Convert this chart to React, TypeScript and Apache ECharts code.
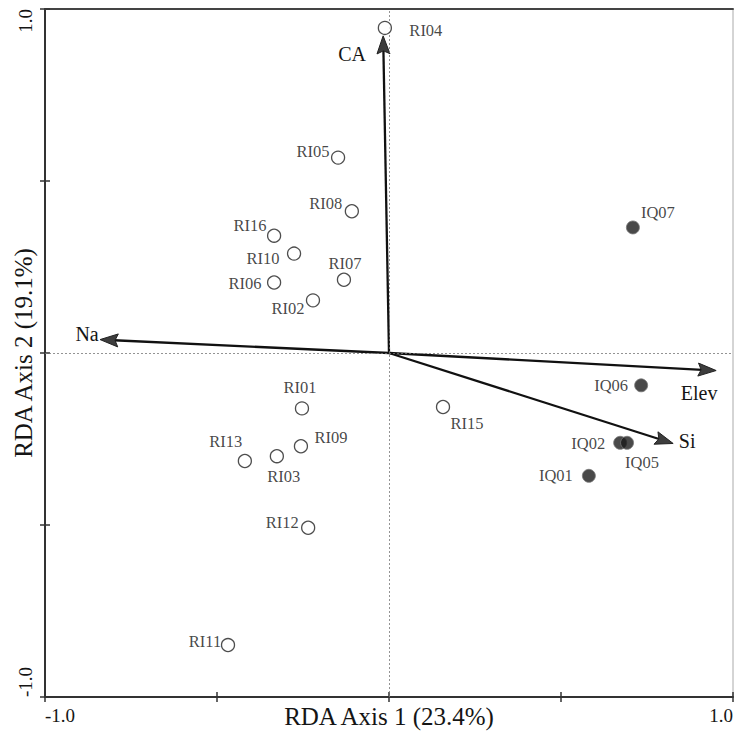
import React, { useEffect, useRef } from "react";
import * as echarts from "echarts";

// Site scores (RDA axis 1, RDA axis 2)
const siteNames = ["RI04", "RI05", "RI08", "RI16", "RI10", "RI06", "RI07", "RI02", "RI01", "RI09", "RI03", "RI13", "RI12", "RI11", "RI15", "IQ07", "IQ06", "IQ02", "IQ05", "IQ01"];
const siteX = [-0.012, -0.148, -0.108, -0.334, -0.276, -0.334, -0.131, -0.221, -0.253, -0.256, -0.326, -0.419, -0.235, -0.468, 0.157, 0.709, 0.733, 0.672, 0.692, 0.581];
const siteY = [0.945, 0.568, 0.412, 0.341, 0.289, 0.205, 0.213, 0.153, -0.161, -0.271, -0.300, -0.314, -0.508, -0.849, -0.157, 0.365, -0.094, -0.261, -0.261, -0.357];

// Environmental vectors (arrow tips)
const envNames = ["CA", "Na", "Elev", "Si"];
const envX = [-0.017, -0.840, 0.951, 0.826];
const envY = [0.922, 0.039, -0.051, -0.263];

// Axis ticks / labels
const axisMin = -1;
const axisMax = 1;
const axisStep = 0.5;
const xTitle = "RDA Axis 1 (23.4%)";
const yTitle = "RDA Axis 2 (19.1%)";

// Layout: label offsets (pixels) relative to the point / arrow tip
const siteLabelOffset: Record<string, [number, number]> = {
  RI04: [41, 3], RI05: [-25, -6], RI08: [-26, -8], RI16: [-24, -10], RI10: [-31, 5],
  RI06: [-29, 1], RI07: [1, -16], RI02: [-25, 8], RI01: [-2, -21], RI09: [30, -9],
  RI13: [-19, -20], RI03: [7, 20], RI12: [-26, -5], RI11: [-23, -4], RI15: [24, 16],
  IQ07: [25, -15], IQ06: [-30, 0], IQ02: [-32, 1], IQ05: [15, 20], IQ01: [-33, 0],
};
const envLabelOffset: Record<string, [number, number]> = {
  CA: [-31, 18], Na: [-13, -6], Elev: [-17, 22], Si: [14, -2],
};

const FONT = '"Liberation Serif", "Times New Roman", serif';
const INK = "#151515";

export default function App() {
  const ref = useRef<HTMLDivElement>(null);
  useEffect(() => {
    if (!ref.current) return;
    const chart = echarts.init(ref.current, undefined, { renderer: "svg" });

    const makeSite = (i: number) => ({
      value: [siteX[i], siteY[i]],
      name: siteNames[i],
      label: { offset: siteLabelOffset[siteNames[i]] || [0, 0] },
    });
    const riData = siteNames.map((n, i) => i).filter((i) => siteNames[i].startsWith("RI")).map(makeSite);
    const iqData = siteNames.map((n, i) => i).filter((i) => siteNames[i].startsWith("IQ")).map(makeSite);

    const tickFmt = (v: number) => (v === axisMin ? "-1.0" : v === axisMax ? "1.0" : "");

    const siteLabel = {
      show: true,
      position: "inside",
      formatter: "{b}",
      fontFamily: FONT,
      fontSize: 16.5,
      color: INK,
    };

    const baseAxis = { type: "value", min: axisMin, max: axisMax, interval: axisStep, splitLine: { show: false } };

    chart.setOption({
      animation: false,
      backgroundColor: "#fff",
      grid: { left: 45, right: 1, top: 9, bottom: 40, show: true, borderColor: "#aaa", borderWidth: 1, containLabel: false, outerBoundsMode: "none" },
      xAxis: [
        {
          ...baseAxis,
          position: "bottom",
          axisLine: { onZero: false, lineStyle: { color: "#333", width: 2 } },
          axisTick: { show: true, length: 5, lineStyle: { color: "#333", width: 1.5 } },
          axisLabel: { formatter: tickFmt, fontFamily: FONT, fontSize: 19, color: INK, margin: 9, alignMinLabel: "left", alignMaxLabel: "right" },
          name: xTitle,
          nameLocation: "middle",
          nameGap: 7,
          nameMoveOverlap: false,
          nameTextStyle: { fontFamily: FONT, fontSize: 25, color: INK, verticalAlign: "top" },
        },
        {
          ...baseAxis,
          position: "bottom",
          axisLine: { show: false, onZero: false },
          axisTick: { show: true, inside: true, length: 5, lineStyle: { color: "#333", width: 1.5 } },
          axisLabel: { show: false },
        },
        {
          ...baseAxis,
          position: "top",
          axisLine: { show: true, onZero: false, lineStyle: { color: "#444", width: 2 } },
          axisTick: { show: false },
          axisLabel: { show: false },
        },
      ],
      yAxis: [
        {
          ...baseAxis,
          position: "left",
          axisLine: { onZero: false, lineStyle: { color: "#333", width: 2 } },
          axisTick: { show: true, length: 5, lineStyle: { color: "#333", width: 1.5 } },
          axisLabel: { formatter: tickFmt, rotate: 90, fontFamily: FONT, fontSize: 19, color: INK, margin: 10, alignMinLabel: "left", alignMaxLabel: "right" },
          name: yTitle,
          nameLocation: "middle",
          nameGap: 9,
          nameMoveOverlap: false,
          nameTextStyle: { fontFamily: FONT, fontSize: 25, color: INK },
        },
        {
          ...baseAxis,
          position: "left",
          axisLine: { show: false, onZero: false },
          axisTick: { show: true, inside: true, length: 5, lineStyle: { color: "#333", width: 1.5 } },
          axisLabel: { show: false },
        },
      ],
      series: [
        {
          type: "custom",
          name: "env",
          coordinateSystem: "cartesian2d",
          z: 3,
          data: envNames.map((n, i) => ({ value: [envX[i], envY[i]], name: n })),
          renderItem: (params: any, api: any) => {
            const name = envNames[params.dataIndex];
            const o = api.coord([0, 0]);
            const t = api.coord([api.value(0), api.value(1)]);
            const dx = t[0] - o[0];
            const dy = t[1] - o[1];
            const len = Math.hypot(dx, dy);
            const ux = dx / len;
            const uy = dy / len;
            const hl = 18;
            const hw = 6.5;
            const bx = t[0] - ux * hl;
            const by = t[1] - uy * hl;
            const px = -uy;
            const py = ux;
            const off = envLabelOffset[name] || [0, 0];
            return {
              type: "group",
              children: [
                { type: "line", shape: { x1: o[0], y1: o[1], x2: bx + ux * 4, y2: by + uy * 4 }, style: { stroke: "#111", lineWidth: 2.3 } },
                {
                  type: "polygon",
                  shape: { points: [[t[0], t[1]], [bx + px * hw, by + py * hw], [bx + ux * 3, by + uy * 3], [bx - px * hw, by - py * hw]] },
                  style: { fill: "#3d3d3d", stroke: "#222", lineWidth: 1 },
                },
                {
                  type: "text",
                  x: t[0] + off[0],
                  y: t[1] + off[1],
                  style: { text: name, fill: INK, fontFamily: FONT, fontSize: 20, align: "center", verticalAlign: "middle" },
                },
              ],
            };
          },
        },
        {
          type: "scatter",
          name: "RI",
          z: 5,
          symbol: "circle",
          symbolSize: 13,
          itemStyle: { color: "#fff", borderColor: "#222", borderWidth: 1.3 },
          label: siteLabel,
          data: riData,
          markLine: {
            silent: true,
            symbol: "none",
            label: { show: false },
            lineStyle: { color: "#777", width: 0.8, type: [2, 2] },
            data: [{ xAxis: 0 }, { yAxis: 0 }],
          },
        },
        {
          type: "scatter",
          name: "IQ",
          z: 5,
          symbol: "circle",
          symbolSize: 13,
          itemStyle: { color: "#1c1c1c", borderColor: "#777", borderWidth: 1 },
          label: siteLabel,
          data: iqData,
        },
      ],
    });
    return () => chart.dispose();
  }, []);
  return <div ref={ref} style={{ position: "fixed", left: 0, top: 0, width: 734, height: 737, background: "#fff" }} />;
}
